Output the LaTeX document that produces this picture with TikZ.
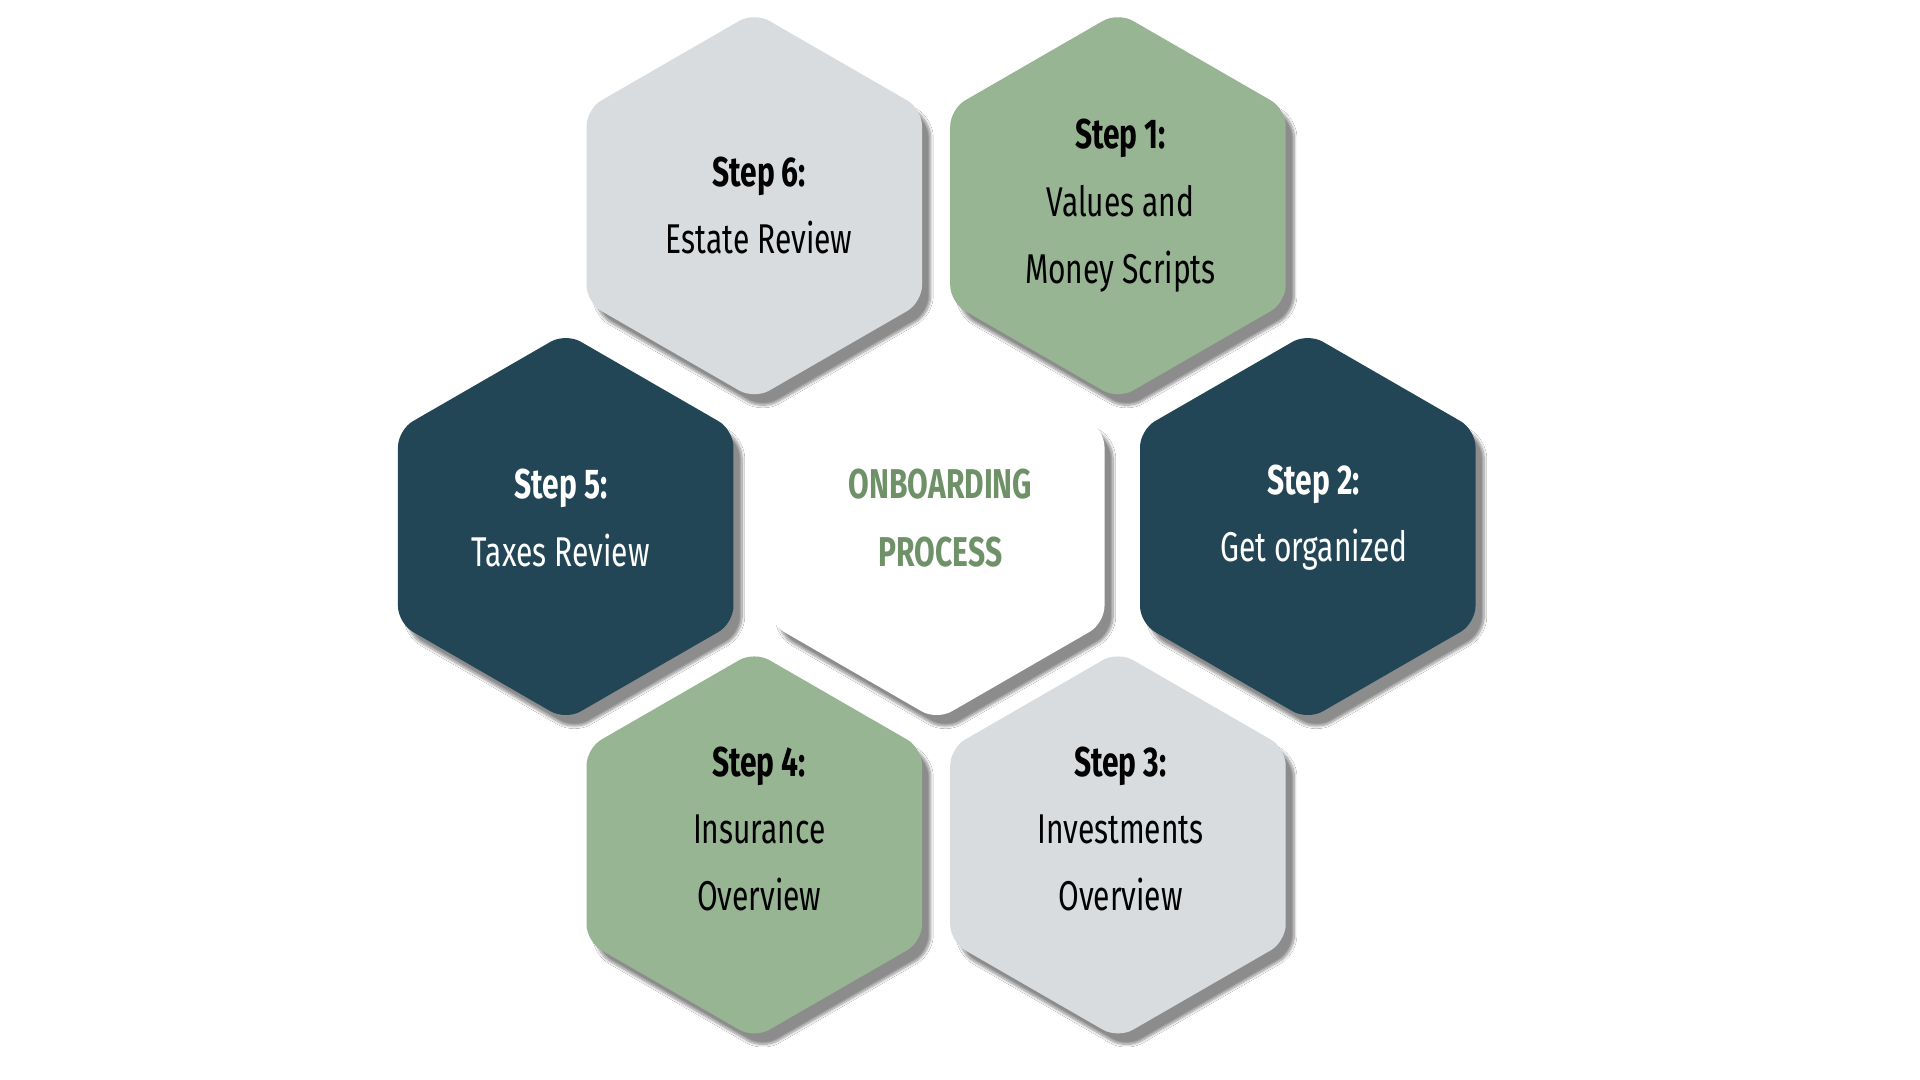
\documentclass[tikz,border=0pt]{standalone}
\usepackage{fontspec}
\setmainfont{Fira Sans}[FakeStretch=0.72]
\usetikzlibrary{shadows.blur}
\definecolor{hgreen}{HTML}{97B593}
\definecolor{hteal}{HTML}{224655}
\definecolor{hgray}{HTML}{D9DCDF}
\definecolor{tgreen}{HTML}{6E9168}
\tikzset{
  hexbox/.style={rounded corners=14pt, blur shadow={shadow xshift=7pt, shadow yshift=-9pt, shadow blur steps=10, shadow opacity=45}},
  lbl/.style={align=center, font=\fontsize{34}{55}\selectfont}
}
\newcommand{\hexat}[3]{%
  \path[hexbox, fill=#3] (#1,#2) ++(90:158) -- ++(-30:158) -- ++(-90:158) -- ++(-150:158) -- ++(150:158) -- ++(90:158) -- cycle;}
\begin{document}
\begin{tikzpicture}[x=1pt,y=-1pt]
\fill[white] (0,0) rectangle (1568,882);
\useasboundingbox (0,0) rectangle (1568,882);
\begin{scope}[y=1pt]
\end{scope}
% hexagons (y axis downwards, so angles mirrored: use explicit path)
\foreach \cx/\cy/\col in {616/168/hgray, 913/168/hgreen, 765/430/white, 462/430/hteal, 1068/430/hteal, 616/690/hgreen, 913/690/hgray}{
  \path[hexbox, fill=\col] (\cx,\cy-158) -- (\cx+137,\cy-79) -- (\cx+137,\cy+79) -- (\cx,\cy+158) -- (\cx-137,\cy+79) -- (\cx-137,\cy-79) -- cycle;
}
\node[lbl] (s6) at (620,168) {\textbf{Step 6:}\\Estate Review};
\node[lbl] (s1) at (915,168) {\textbf{Step 1:}\\Values and\\Money Scripts};
\node[lbl, text=tgreen] (c) at (768,423) {\textbf{ONBOARDING}\\\textbf{PROCESS}};
\node[lbl, text=white] (s5) at (458,423) {\textbf{Step 5:}\\Taxes Review};
\node[lbl, text=white] (s2) at (1073,423) {\textbf{Step 2:}\\Get organized};
\node[lbl] (s4) at (620,677) {\textbf{Step 4:}\\Insurance\\Overview};
\node[lbl] (s3) at (915,677) {\textbf{Step 3:}\\Investments\\Overview};
\end{tikzpicture}
\end{document}
